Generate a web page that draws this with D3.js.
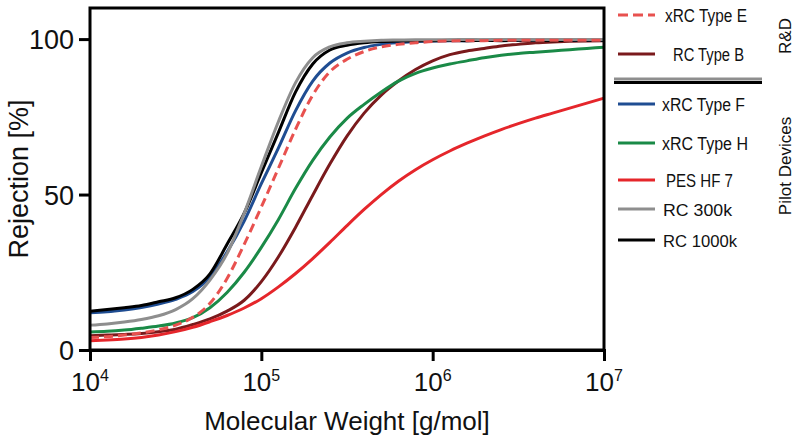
<!DOCTYPE html>
<html>
<head>
<meta charset="utf-8">
<script src="https://cdn.jsdelivr.net/npm/d3@7"></script>
<style>
  html, body { margin: 0; padding: 0; background: #fff; }
  svg { display: block; }
  text { font-family: "Liberation Sans", Arial, Helvetica, sans-serif; fill: #111; }
</style>
</head>
<body>
<svg id="chart" width="797" height="438"></svg>
<script>
// ---- data ----
const mwExponents = [4.0,4.1,4.2,4.3,4.4,4.5,4.6,4.7,4.8,4.9,5.0,5.1,5.2,5.3,5.4,5.5,5.6,5.7,5.8,5.9,6.0,6.1,6.2,6.3,6.4,6.5,6.6,6.7,6.8,6.9,7.0];

const rc1000k = [12.5,13,13.6,14.3,15.5,16.8,19.5,24.5,34,44,57,70,83,92,96.5,98,98.8,99.2,99.4,99.5,99.5,99.6,99.5,99.6,99.5,99.6,99.6,99.5,99.6,99.6,99.6];
const rc300k  = [8,8.4,9,9.8,11,13,16.5,22.5,31,44,59,73.5,86,94,97.5,98.8,99.3,99.6,99.7,99.8,99.8,99.8,99.9,99.8,99.9,99.9,99.8,99.9,99.9,99.9,99.9];
const typeF   = [12,12.3,12.9,13.7,14.8,16.3,18.8,23.5,31.5,41.5,53.5,65,77,86.5,92.3,95.5,97.3,98.3,98.9,99.2,99.4,99.5,99.5,99.6,99.6,99.6,99.6,99.6,99.6,99.6,99.6];
const typeE   = [4,4.3,4.8,5.5,6.5,8,10.5,15,23,34,46,58.5,71,82,89.5,93.5,96,97.5,98.3,98.8,99.2,99.4,99.5,99.5,99.6,99.6,99.6,99.6,99.6,99.6,99.6];
const typeH   = [5.8,6,6.4,7,7.7,8.7,10.4,13.6,18.5,25,33,42,52,61,68.5,74.5,79,83,86.5,89,90.7,92,93,94,94.8,95.4,95.8,96.2,96.6,97,97.4];
const typeB   = [4.6,4.8,5,5.3,5.9,6.7,8.2,10,12.5,16,22,30,39.5,49.8,59.8,68.8,76.2,82,86.5,90.2,93,95,96.2,97,97.8,98.3,98.8,99.1,99.3,99.4,99.5];
const pesHF7  = [3,3.2,3.5,4,4.8,5.9,7.3,9.1,11.1,13.5,16.5,20.3,24.6,29.4,34.6,40,45.2,50,54.3,58,61.2,64,66.5,68.8,70.9,72.8,74.6,76.2,77.8,79.4,81];

const seriesNames = ["RC Type B","xRC Type H","xRC Type F","RC 1000k","RC 300k","PES HF 7","xRC Type E"];
const xTickExponents = [4,5,6,7];
const yTickValues = [0,50,100];

// ---- styles ----
const styles = {
  "xRC Type E": {color:"#e8514f", dash:"9,5", values: typeE},
  "RC Type B":  {color:"#7a1a1c", dash:null,  values: typeB},
  "xRC Type F": {color:"#1f4d92", dash:null,  values: typeF},
  "xRC Type H": {color:"#1a8a47", dash:null,  values: typeH},
  "PES HF 7":   {color:"#e5262b", dash:null,  values: pesHF7},
  "RC 300k":    {color:"#8e8e8e", dash:null,  values: rc300k},
  "RC 1000k":   {color:"#000000", dash:null,  values: rc1000k}
};

const svg = d3.select("#chart");
const x = d3.scaleLog().domain([1e4, 1e7]).range([90, 604]);
const y = d3.scaleLinear().domain([0, 110]).range([350, 8]);

// curves
const line = d3.line()
  .x(d => x(d[0]))
  .y(d => y(d[1]))
  .curve(d3.curveMonotoneX);

const g = svg.append("g");
seriesNames.forEach(name => {
  const s = styles[name];
  const pts = mwExponents.map((e, i) => [Math.pow(10, e), s.values[i]]);
  g.append("path")
    .datum(pts)
    .attr("d", line)
    .attr("fill", "none")
    .attr("stroke", s.color)
    .attr("stroke-width", 3)
    .attr("stroke-linejoin", "round")
    .attr("stroke-dasharray", s.dash);
});

// frame
svg.append("rect")
  .attr("x", x.range()[0]).attr("y", y(110))
  .attr("width", x.range()[1] - x.range()[0])
  .attr("height", y(0) - y(110))
  .attr("fill", "none").attr("stroke", "#000").attr("stroke-width", 3);

// x axis
const xAxis = d3.axisBottom(x).tickValues(xTickExponents.map(e => Math.pow(10, e)))
  .tickSize(11).tickFormat("");
const gx = svg.append("g").attr("transform", `translate(0,${y(0)})`).call(xAxis);
gx.select(".domain").attr("stroke", "#000").attr("stroke-width", 3);
gx.selectAll(".tick line").attr("stroke", "#000").attr("stroke-width", 3);
xTickExponents.forEach(e => {
  const t = svg.append("text")
    .attr("x", x(Math.pow(10, e)))
    .attr("y", 391)
    .attr("text-anchor", "middle")
    .style("font-size", "26px");
  t.append("tspan").text("10");
  t.append("tspan").text(String(e)).style("font-size", "16px").attr("dy", -10);
});

// y axis
const yAxis = d3.axisLeft(y).tickValues(yTickValues).tickSize(11).tickPadding(5);
const gy = svg.append("g").attr("transform", `translate(${x.range()[0]},0)`).call(yAxis);
gy.select(".domain").remove();
gy.selectAll(".tick line").attr("stroke", "#000").attr("stroke-width", 3);
gy.selectAll(".tick text")
  .style("font-size", "27px")
  .style("font-family", "'Liberation Sans', Arial, sans-serif")
  .attr("fill", "#111")
  .attr("dy", "0.36em");

// axis titles
svg.append("text")
  .attr("x", 347).attr("y", 430)
  .attr("text-anchor", "middle")
  .style("font-size", "26px")
  .text("Molecular Weight [g/mol]");
svg.append("text")
  .attr("transform", "translate(28,179) rotate(-90)")
  .attr("text-anchor", "middle")
  .style("font-size", "27px")
  .text("Rejection [%]");

// legend
const legend = [
  {name:"xRC Type E", ly:15,  tx:665, tw:82, narrow:true},
  {name:"RC Type B",  ly:54,  tx:673, tw:71, narrow:true},
  {name:"xRC Type F", ly:104, tx:662, tw:83, narrow:true},
  {name:"xRC Type H", ly:143, tx:662, tw:86, narrow:true},
  {name:"PES HF 7",   ly:180, tx:666, tw:67, narrow:true},
  {name:"RC 300k",    ly:209, tx:663, tw:69, narrow:false},
  {name:"RC 1000k",   ly:240, tx:663, tw:74, narrow:false}
];
const lg = svg.append("g");
legend.forEach(d => {
  const s = styles[d.name];
  lg.append("line")
    .attr("x1", 618).attr("x2", 655)
    .attr("y1", d.ly).attr("y2", d.ly)
    .attr("stroke", s.color).attr("stroke-width", 3)
    .attr("stroke-dasharray", s.dash ? "10,5" : null);
  lg.append("text")
    .attr("x", d.tx).attr("y", d.ly + 7)
    .attr("textLength", d.tw)
    .attr("lengthAdjust", "spacingAndGlyphs")
    .style("font-size", d.narrow ? "18px" : "17px")
    .text(d.name);
});
// separator
lg.append("line").attr("x1", 614).attr("x2", 762).attr("y1", 79).attr("y2", 79)
  .attr("stroke", "#8e8e8e").attr("stroke-width", 3);
lg.append("line").attr("x1", 614).attr("x2", 762).attr("y1", 82.5).attr("y2", 82.5)
  .attr("stroke", "#000").attr("stroke-width", 3);

// group labels
svg.append("text")
  .attr("transform", "translate(791,36) rotate(-90)")
  .attr("text-anchor", "middle")
  .style("font-size", "17px")
  .text("R&D");
svg.append("text")
  .attr("transform", "translate(791,166) rotate(-90)")
  .attr("text-anchor", "middle")
  .style("font-size", "17px")
  .text("Pilot Devices");
</script>
</body>
</html>
